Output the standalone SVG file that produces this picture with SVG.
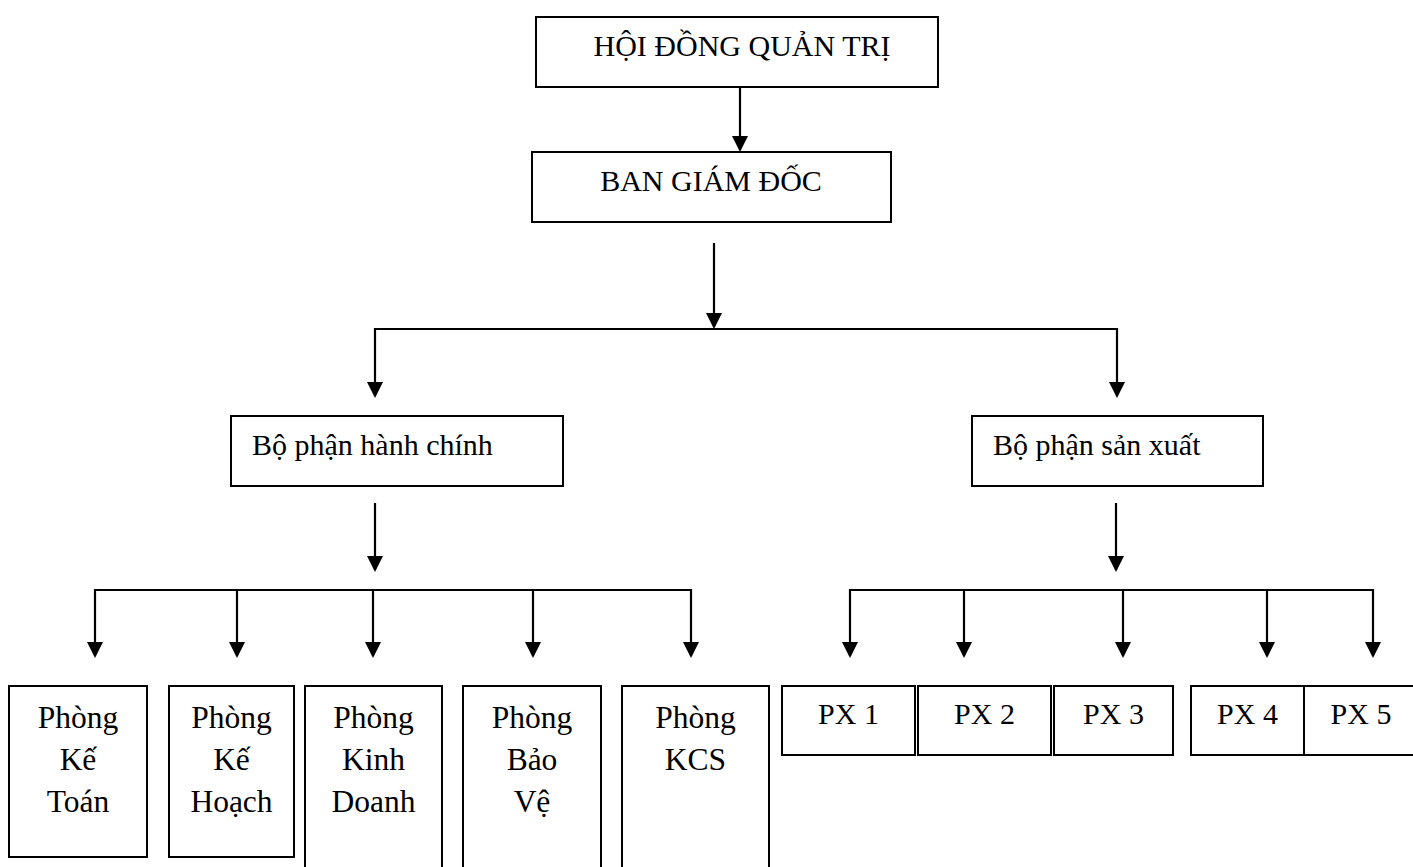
<svg xmlns="http://www.w3.org/2000/svg" width="1413" height="867" viewBox="0 0 1413 867">
  <style>
    .box { fill: #ffffff; stroke: #000000; stroke-width: 2; }
    .wire { fill: none; stroke: #000000; stroke-width: 2.2; }
    .arrow { fill: none; stroke: #000000; stroke-width: 2.2; marker-end: url(#head); }
    text { font-family: "Liberation Serif", "Times New Roman", serif; fill: #000000; }
    .t29 { font-size: 30px; }
    .t30 { font-size: 31.5px; }
    .mid { text-anchor: middle; }
  </style>
  <defs>
    <marker id="head" markerUnits="userSpaceOnUse" markerWidth="18" markerHeight="18" refX="14" refY="8" orient="auto">
      <path d="M0,0 L16,8 L0,16 Z" fill="#000000"/>
    </marker>
  </defs>
  <rect width="1413" height="867" fill="#ffffff"/>

  <!-- connectors -->
  <g id="connectors">
    <line class="arrow" x1="740" y1="87" x2="740" y2="150"/>
    <line class="arrow" x1="714" y1="243" x2="714" y2="327"/>
    <polyline class="wire" points="375,329 1117,329"/>
    <line class="arrow" x1="375" y1="328" x2="375" y2="396"/>
    <line class="arrow" x1="1117" y1="328" x2="1117" y2="396"/>

    <line class="arrow" x1="375" y1="503" x2="375" y2="570"/>
    <polyline class="wire" points="95,590 691,590"/>
    <line class="arrow" x1="95" y1="589" x2="95" y2="656"/>
    <line class="arrow" x1="237" y1="590" x2="237" y2="656"/>
    <line class="arrow" x1="373" y1="590" x2="373" y2="656"/>
    <line class="arrow" x1="533" y1="590" x2="533" y2="656"/>
    <line class="arrow" x1="691" y1="589" x2="691" y2="656"/>

    <line class="arrow" x1="1116" y1="503" x2="1116" y2="570"/>
    <polyline class="wire" points="850,590 1373,590"/>
    <line class="arrow" x1="850" y1="589" x2="850" y2="656"/>
    <line class="arrow" x1="964" y1="590" x2="964" y2="656"/>
    <line class="arrow" x1="1123" y1="590" x2="1123" y2="656"/>
    <line class="arrow" x1="1267" y1="590" x2="1267" y2="656"/>
    <line class="arrow" x1="1373" y1="589" x2="1373" y2="656"/>
  </g>

  <!-- top levels -->
  <g id="hoi-dong-quan-tri">
    <rect class="box" x="536" y="17" width="402" height="70"/>
    <text class="t29 mid" x="742" y="56">HỘI ĐỒNG QUẢN TRỊ</text>
  </g>
  <g id="ban-giam-doc">
    <rect class="box" x="532" y="152" width="359" height="70"/>
    <text class="t29 mid" x="711" y="191">BAN GIÁM ĐỐC</text>
  </g>

  <!-- divisions -->
  <g id="bo-phan-hanh-chinh">
    <rect class="box" x="231" y="416" width="332" height="70"/>
    <text class="t29" x="252" y="455">Bộ phận hành chính</text>
  </g>
  <g id="bo-phan-san-xuat">
    <rect class="box" x="972" y="416" width="291" height="70"/>
    <text class="t29" x="993" y="455">Bộ phận sản xuất</text>
  </g>

  <!-- administrative departments -->
  <g id="phong-ke-toan">
    <rect class="box" x="9" y="686" width="138" height="171"/>
    <text class="t30 mid" x="78" y="728">Phòng</text>
    <text class="t30 mid" x="78" y="770">Kế</text>
    <text class="t30 mid" x="78" y="812">Toán</text>
  </g>
  <g id="phong-ke-hoach">
    <rect class="box" x="169" y="686" width="125" height="171"/>
    <text class="t30 mid" x="231.5" y="728">Phòng</text>
    <text class="t30 mid" x="231.5" y="770">Kế</text>
    <text class="t30 mid" x="231.5" y="812">Hoạch</text>
  </g>
  <g id="phong-kinh-doanh">
    <rect class="box" x="305" y="686" width="137" height="190"/>
    <text class="t30 mid" x="373.5" y="728">Phòng</text>
    <text class="t30 mid" x="373.5" y="770">Kinh</text>
    <text class="t30 mid" x="373.5" y="812">Doanh</text>
  </g>
  <g id="phong-bao-ve">
    <rect class="box" x="463" y="686" width="138" height="190"/>
    <text class="t30 mid" x="532" y="728">Phòng</text>
    <text class="t30 mid" x="532" y="770">Bảo</text>
    <text class="t30 mid" x="532" y="812">Vệ</text>
  </g>
  <g id="phong-kcs">
    <rect class="box" x="622" y="686" width="147" height="190"/>
    <text class="t30 mid" x="695.5" y="728">Phòng</text>
    <text class="t30 mid" x="695.5" y="770">KCS</text>
  </g>

  <!-- workshops -->
  <g id="px1">
    <rect class="box" x="782" y="686" width="133" height="69"/>
    <text class="t29 mid" x="848.5" y="724">PX 1</text>
  </g>
  <g id="px2">
    <rect class="box" x="918" y="686" width="133" height="69"/>
    <text class="t29 mid" x="984.5" y="724">PX 2</text>
  </g>
  <g id="px3">
    <rect class="box" x="1054" y="686" width="119" height="69"/>
    <text class="t29 mid" x="1113.5" y="724">PX 3</text>
  </g>
  <g id="px4">
    <rect class="box" x="1191" y="686" width="113" height="69"/>
    <text class="t29 mid" x="1247.5" y="724">PX 4</text>
  </g>
  <g id="px5">
    <rect class="box" x="1304" y="686" width="114" height="69"/>
    <text class="t29 mid" x="1361" y="724">PX 5</text>
  </g>
</svg>
